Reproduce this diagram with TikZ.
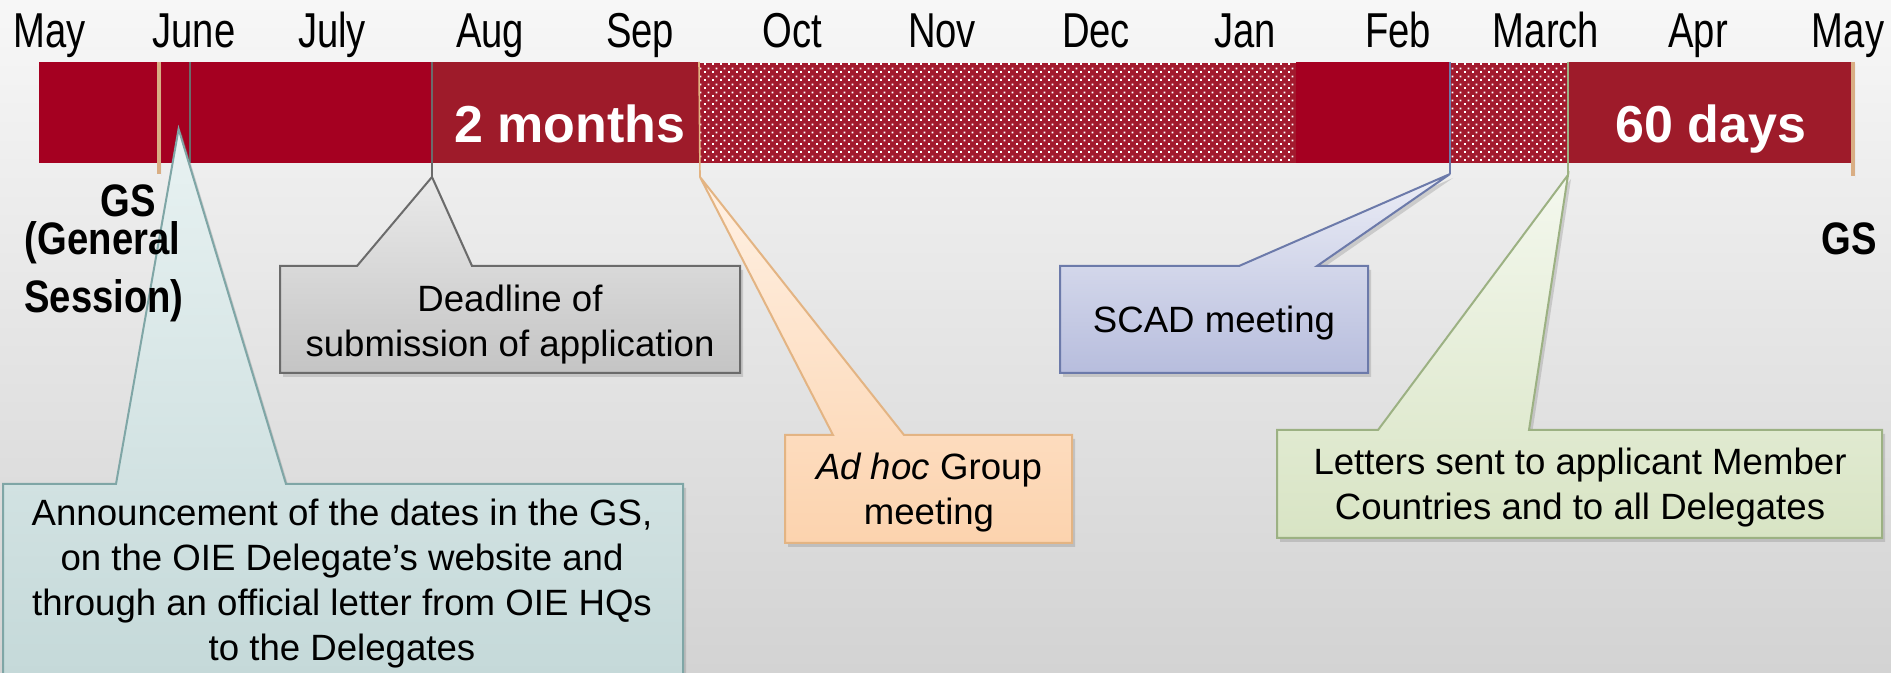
\documentclass[tikz,border=0pt]{standalone}
\usepackage{fontspec}
\setmainfont{Liberation Sans}
\newfontfamily\narrowfont[FakeStretch=0.78]{Liberation Sans}
\newfontfamily\narrowbold[FakeStretch=0.84]{Liberation Sans Bold}
\usetikzlibrary{patterns,shadows}
\pgfdeclarepatternformonly{reddots}{\pgfqpoint{0pt}{0pt}}{\pgfqpoint{4pt}{4pt}}{\pgfqpoint{4pt}{4pt}}{%
  \pgfpathrectangle{\pgfqpoint{0pt}{0pt}}{\pgfqpoint{1pt}{1pt}}%
  \pgfpathrectangle{\pgfqpoint{2pt}{2pt}}{\pgfqpoint{1pt}{1pt}}%
  \pgfusepath{fill}}
\definecolor{bgtop}{HTML}{F7F7F7}
\definecolor{bgbot}{HTML}{D3D3D3}
\definecolor{darkred}{HTML}{A50021}
\definecolor{midred}{HTML}{9E1B2A}
\definecolor{dotbase}{HTML}{A21A2E}
\definecolor{tanline}{HTML}{D9AE84}
\definecolor{tealB}{HTML}{7FA6A6}
\definecolor{tealT}{HTML}{E8F2F2}
\definecolor{tealD}{HTML}{C2D7D7}
\definecolor{grayB}{HTML}{6B6B6B}
\definecolor{grayT}{HTML}{EAEAEA}
\definecolor{grayD}{HTML}{C4C4C4}
\definecolor{orB}{HTML}{E3B483}
\definecolor{orT}{HTML}{FFF1E4}
\definecolor{orD}{HTML}{FCD3AE}
\definecolor{scB}{HTML}{6C7AAA}
\definecolor{scT}{HTML}{EBEDF6}
\definecolor{scD}{HTML}{B7BDDD}
\definecolor{grB}{HTML}{9CB183}
\definecolor{grT}{HTML}{F4F8EE}
\definecolor{grD}{HTML}{D8E4C4}
\newcommand{\clines}[1]{\vtop{\baselineskip=22.5pt\halign{\hfil##\hfil\cr#1\crcr}}}
\begin{document}
\begin{tikzpicture}[x=0.5pt,y=-0.5pt,
  month/.style={font=\narrowfont\fontsize{24.5}{28}\selectfont, anchor=base, inner sep=0pt},
  gslabel/.style={font=\narrowbold\fontsize{22.75}{26}\selectfont, anchor=base, inner sep=0pt},
  bartext/.style={font=\bfseries\fontsize{26}{30}\selectfont, text=white, anchor=base, inner sep=0pt},
  calltext/.style={font=\fontsize{18.3}{22.5}\selectfont, anchor=base, inner sep=0pt},
  callout/.style={line width=1pt, line join=miter, drop shadow={shadow xshift=1.5pt, shadow yshift=-2pt, opacity=0.3}},
  tick/.style={line width=0.8pt},
  gstick/.style={tanline, line width=2pt, drop shadow={shadow xshift=1pt, shadow yshift=-1pt, opacity=0.3}},
]
\clip (0,0) rectangle (1891,673);
\shade[top color=bgtop, bottom color=bgbot] (0,0) rectangle (1891,673);

% bar
\fill[darkred] (39,62) rectangle (432,163);
\fill[midred] (432,62) rectangle (699,163);
\fill[dotbase] (699,63) rectangle (1296,163);
\fill[pattern=reddots, pattern color=white] (699,63) rectangle (1296,163);
\fill[darkred] (1296,62) rectangle (1450,163);
\fill[dotbase] (1450,63) rectangle (1568,163);
\fill[pattern=reddots, pattern color=white] (1450,63) rectangle (1568,163);
\fill[midred] (1568,62) rectangle (1853,163);

% months
\foreach \mx/\mt/\mn in {50/May/m1,194/June/m2,332/July/m3,490/Aug/m4,640/Sep/m5,792/Oct/m6,942/Nov/m7,1096/Dec/m8,1245/Jan/m9,1398/Feb/m10,1546/March/m11,1698/Apr/m12,1848/May/m13}
  \node[month] (\mn) at (\mx,48) {\mt};

\node[bartext] (two) at (570,143) {2 months};
\node[bartext] (sixty) at (1711,143) {60 days};

% ticks
\coordinate (gsL) at (159,174);
\coordinate (gsRt) at (1853,176);
\draw[gstick] (159,62) -- (gsL);
\draw[gstick] (1853,62) -- (gsRt);
\draw[grayB, line width=0.7pt] (190,62) -- (190,163);

\coordinate (tipD) at (432,177);
\coordinate (tipA) at (700,177);
\coordinate (tipS) at (1450,174);
\coordinate (tipL) at (1568,175);
\coordinate (tipT) at (178.6,129);
\draw[grayB, tick] (432,62) -- (tipD);
\draw[orB, tick] (699,62) -- (tipA);
\draw[scB, tick] (1450,62) -- (tipS);
\draw[grB, tick] (1568,62) -- (tipL);

% callouts
\shade[callout, draw=grayB, top color=grayT, bottom color=grayD]
  (280,266) -- (357,266) -- (tipD) -- (472,266) -- (740,266) -- (740,373) -- (280,373) -- cycle;
\shade[callout, draw=orB, top color=orT, bottom color=orD]
  (785,435) -- (833,435) -- (tipA) -- (904,435) -- (1072,435) -- (1072,543) -- (785,543) -- cycle;
\shade[callout, draw=scB, top color=scT, bottom color=scD]
  (1060,266) -- (1239,266) -- (tipS) -- (1317,266) -- (1368,266) -- (1368,373) -- (1060,373) -- cycle;
\shade[callout, draw=grB, top color=grT, bottom color=grD]
  (1277,430) -- (1378,430) -- (tipL) -- (1529,430) -- (1882,430) -- (1882,538) -- (1277,538) -- cycle;
\shade[callout, draw=tealB, top color=tealT, bottom color=tealD]
  (3,484) -- (116,484) -- (tipT) -- (286,484) -- (683,484) -- (683,720) -- (3,720) -- cycle;

% callout texts
\node[calltext] (deadline) at (510,312) {\clines{Deadline of\cr submission of application}};
\node[calltext] (adhoc) at (929,480) {\clines{\textit{Ad hoc} Group\cr meeting}};
\node[calltext] (scad) at (1214,333) {\clines{SCAD meeting}};
\node[calltext] (letters) at (1580,475) {\clines{Letters sent to applicant Member\cr Countries and to all Delegates}};
\node[calltext] (announce) at (342,525) {\clines{Announcement of the dates in the GS,\cr on the OIE Delegate’s website and\cr through an official letter from OIE HQs\cr to the Delegates}};

% GS labels
\node[gslabel] (gsA) at (128.5,217) {GS};
\node[gslabel] (gsB) at (102.5,255) {(General};
\node[gslabel] (gsC) at (104,313) {Session)};
\node[gslabel] (gsR) at (1849,255) {GS};
\end{tikzpicture}
\end{document}
